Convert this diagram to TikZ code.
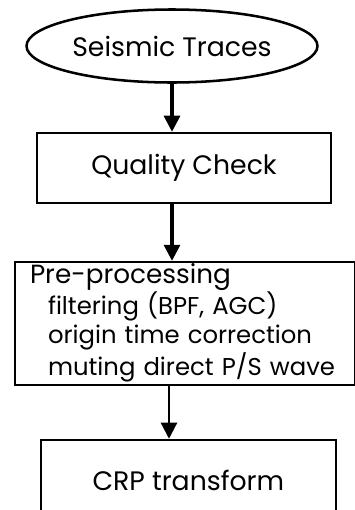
\documentclass[tikz,border=0pt]{standalone}
\usepackage{fontspec}
\setmainfont{Poppins}
\usetikzlibrary{positioning}
\usetikzlibrary{shapes.geometric}
\usetikzlibrary{arrows.meta}

\begin{document}
\begin{tikzpicture}
[start/.style={shape=ellipse,draw,line width=1.8pt,minimum width=7.275cm,minimum height=1.825cm,inner sep=0pt},
 stage/.style={shape=rectangle,draw,line width=1.8pt,minimum height=1.75cm,inner sep=0pt},
 steps/.style={stage,align=left,minimum width=8.5cm,minimum height=3.075cm,text width=7.75cm,
   font=\fontsize{17.3}{20.4}\selectfont},
 flow/.style={line width=2.2pt,-{Triangle[length=0.4cm,width=0.4cm]}},
 every node/.style={font=\fontsize{19}{23}\selectfont}]

\useasboundingbox (0,0) rectangle (8.875,-12.75);

\draw (4.3,-1.15) node (traces) [start] {Seismic Traces};

\draw (4.6,-4.2) node (check) [stage,minimum width=7.35cm] {Quality Check};

\draw (4.625,-8.09) node (prep) [steps] {\raisebox{-0.12cm}{\begin{tabular}{@{}l@{}}
	{\fontsize{18.7}{20.4}\selectfont Pre-processing}\\
	\hspace*{0.45cm}filtering (BPF, AGC)\\
	\hspace*{0.45cm}origin time correction\\
	\hspace*{0.45cm}muting direct P/S wave
	\end{tabular}}};

\draw (4.71,-12.0) node (crp) [stage,minimum width=7.375cm,minimum height=2cm] {CRP transform};

\draw [flow] (traces.south) -- (traces.south |- check.north);
\draw [flow] (traces.south |- check.south) -- (traces.south |- prep.north);
\draw [flow,line width=1.6pt] ([xshift=-0.075cm]traces.south |- prep.south) -- ([xshift=-0.075cm]traces.south |- crp.north);

\end{tikzpicture}
\end{document}
